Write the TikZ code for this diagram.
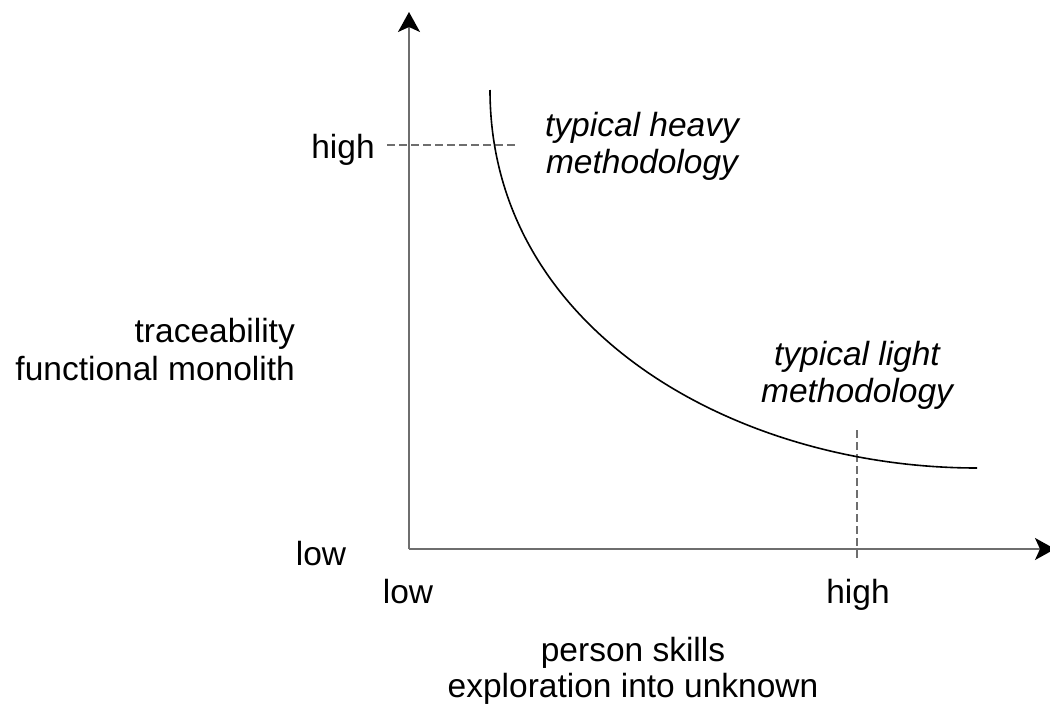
\documentclass[tikz,border=0pt]{standalone}
\usepackage{fontspec}
\setmainfont{Liberation Sans}
\usetikzlibrary{arrows.meta}
\definecolor{axisgray}{RGB}{110,110,110}
\begin{document}
\begin{tikzpicture}[x=1pt,y=-1pt,
  axisline/.style={draw=axisgray, line width=1.8pt, -{Stealth[length=20pt,width=22pt,inset=5pt,color=black]}},
  guide/.style={draw=axisgray, line width=1.1pt, dash pattern=on 8pt off 4pt},
  curveline/.style={draw=black, line width=1.6pt},
  lbl/.style={inner sep=0pt, anchor=base, font=\fontsize{33.5}{38}\selectfont},
  ilbl/.style={lbl, font=\fontsize{33.5}{38}\selectfont\itshape}]
\useasboundingbox (0,0) rectangle (1050,710);
% axes
\coordinate (origin) at (409,549);
\coordinate (ytip) at (409,12);
\coordinate (xtip) at (1055,549);
\draw[axisline] (origin) -- (ytip);
\draw[axisline] (origin) -- (xtip);
% guide lines
\coordinate (hg1) at (387,145);
\coordinate (hg2) at (515,145);
\coordinate (vg1) at (857,430);
\coordinate (vg2) at (857,558);
\draw[guide] (hg1) -- (hg2);
\draw[guide] (vg1) -- (vg2);
% curve
\coordinate (cstart) at (490,90);
\coordinate (cend) at (977,468);
\draw[curveline] (cstart) .. controls (490,330) and (735,468) .. (cend);
% labels
\node[lbl] (yhigh) at (343,158) {high};
\node[lbl] (ylow) at (321,565) {low};
\node[lbl] (xlow) at (408,603) {low};
\node[lbl] (xhigh) at (858,603) {high};
\node[lbl, anchor=base east] (ylab1) at (295,342) {traceability};
\node[lbl, anchor=base east] (ylab2) at (295,380) {functional monolith};
\node[lbl] (xlab1) at (633,661) {person skills};
\node[lbl] (xlab2) at (633,697) {exploration into unknown};
\node[ilbl] (heavy1) at (642,136) {typical heavy};
\node[ilbl] (heavy2) at (642,173) {methodology};
\node[ilbl] (light1) at (857,365) {typical light};
\node[ilbl] (light2) at (857,402) {methodology};
\end{tikzpicture}
\end{document}
